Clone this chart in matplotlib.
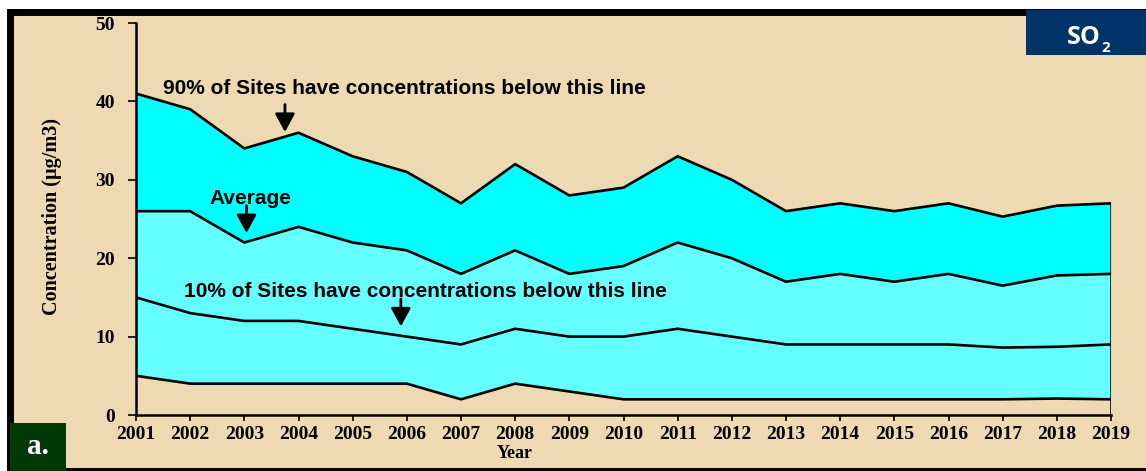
import matplotlib
matplotlib.use('Agg')
import matplotlib.pyplot as plt
from matplotlib.patches import Rectangle

years = list(range(2001, 2020))
p90 = [41, 39, 34, 36, 33, 31, 27, 32, 28, 29, 33, 30, 26, 27, 26, 27, 25.3, 26.7, 27]
avg = [26, 26, 22, 24, 22, 21, 18, 21, 18, 19, 22, 20, 17, 18, 17, 18, 16.5, 17.8, 18]
p10 = [15, 13, 12, 12, 11, 10, 9, 11, 10, 10, 11, 10, 9, 9, 9, 9, 8.6, 8.7, 9]
low = [5, 4, 4, 4, 4, 4, 2, 4, 3, 2, 2, 2, 2, 2, 2, 2, 2, 2.1, 2]
yticks = [0, 10, 20, 30, 40, 50]

W, H = 1146, 471
bg = '#EDDAB2'
fig = plt.figure(figsize=(W / 100, H / 100), dpi=100)
fig.patch.set_facecolor('white')

# parchment panel with thick black frame
fig.patches.append(Rectangle((9.5 / W, 0.5 / H), (1160 - 9.5) / W, (459.5 - 0.5) / H,
                             transform=fig.transFigure, facecolor=bg,
                             edgecolor='black', lw=5.0, zorder=-10))

ax = fig.add_axes([136 / W, 56 / H, (1111 - 136) / W, (415 - 23) / H])
ax.set_facecolor('none')
ax.set_zorder(1)

ax.fill_between(years, avg, p90, color='#00FFFF', lw=0)
ax.fill_between(years, low, avg, color='#66FFFF', lw=0)
for s in (p90, avg, p10, low):
    ax.plot(years, s, color='black', lw=1.9)
ax.plot([years[-1], years[-1]], [0, p90[-1]], color='black', lw=1.9)

ax.set_xlim(2001, 2019)
ax.set_ylim(0, 50)
ax.set_xticks(years)
ax.set_yticks(yticks)
for sp in ('top', 'right'):
    ax.spines[sp].set_visible(False)
for sp in ('left', 'bottom'):
    ax.spines[sp].set_linewidth(1.8)
ax.tick_params(axis='y', length=6, width=1.2, pad=9)
ax.tick_params(axis='x', length=4, width=1.2, pad=4)
for lab in ax.get_xticklabels() + ax.get_yticklabels():
    lab.set_fontfamily('Liberation Serif')
    lab.set_fontweight('bold')
    lab.set_fontsize(14)

fig.text(52 / W, 1 - 216.5 / H, 'Concentration (\u00b5g/m3)', rotation=90,
         ha='center', va='center', family='Liberation Serif', weight='bold', fontsize=14.5)
fig.text(515 / W, 1 - 453.5 / H, 'Year', ha='center', va='center',
         family='Liberation Serif', weight='bold', fontsize=13)

sans = dict(family='Liberation Sans', weight='bold', fontsize=15)
ax.text(2001.5, 41.6, '90% of Sites have concentrations below this line',
        ha='left', va='center', **sans)
ax.text(2002.35, 27.6, 'Average', ha='left', va='center', **sans)
ax.text(2001.88, 15.8, '10% of Sites have concentrations below this line',
        ha='left', va='center', **sans)

arrow = dict(arrowstyle='-|>,head_length=0.55,head_width=0.3', mutation_scale=20,
             color='black', lw=2, shrinkA=0, shrinkB=0)
ax.annotate('', xy=(2003.75, 36.1), xytext=(2003.75, 39.6), arrowprops=arrow)
ax.annotate('', xy=(2003.04, 23.2), xytext=(2003.04, 26.7), arrowprops=arrow)
ax.annotate('', xy=(2005.89, 11.3), xytext=(2005.89, 14.8), arrowprops=arrow)

# SO2 badge
fig.patches.append(Rectangle((1026 / W, 1 - 55 / H), 130 / W, 45 / H,
                             transform=fig.transFigure, facecolor='#003469',
                             edgecolor='none', zorder=3))
fig.text(1084 / W, 1 - 37.5 / H, 'SO', color='white', ha='center', va='center',
         family='Open Sans', weight='bold', fontsize=18, zorder=4)
fig.text(1106 / W, 1 - 48 / H, '2', color='white', ha='center', va='center',
         family='Open Sans', weight='bold', fontsize=11, zorder=4)

# panel label
fig.patches.append(Rectangle((10 / W, 0), 56 / W, 48 / H,
                             transform=fig.transFigure, facecolor='#013A07',
                             edgecolor='none', zorder=3))
fig.text(38 / W, 1 - 447 / H, 'a.', color='white', ha='center', va='center',
         family='Liberation Serif', weight='bold', fontsize=21, zorder=4)

fig.savefig('out.png', dpi=100, facecolor=fig.get_facecolor())
